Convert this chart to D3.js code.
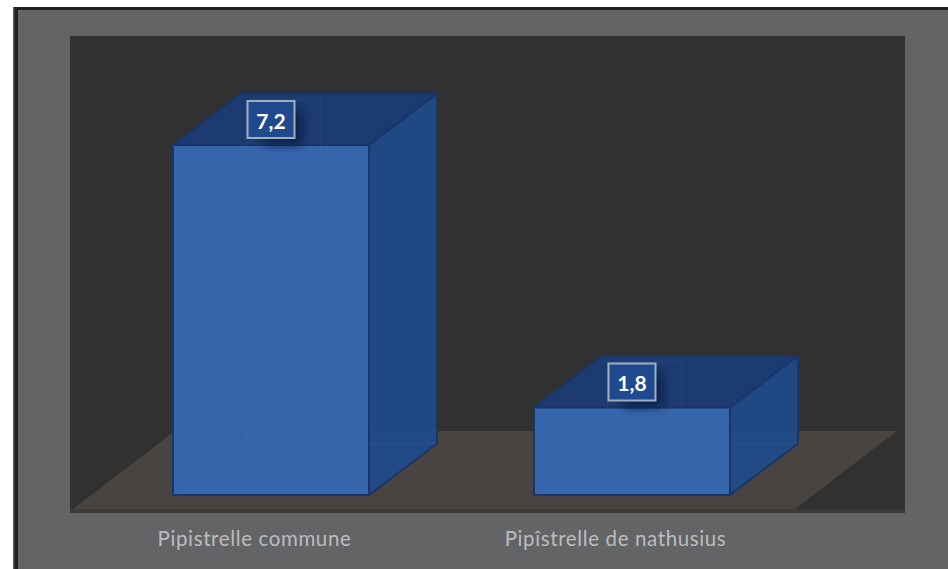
<!DOCTYPE html>
<html><head><meta charset="utf-8">
<script src="https://cdn.jsdelivr.net/npm/d3@7"></script>
<style>html,body{margin:0;padding:0;background:#fff}svg{display:block}</style>
</head><body><svg id="c" width="948" height="569"></svg>
<script>
const categories = ["Pipistrelle commune", "Pipîstrelle de nathusius"];
const values = [7.2, 1.8];

const W = 948, H = 569;
const svg = d3.select("#c");
const fmt = d3.formatLocale({decimal:",",thousands:" ",grouping:[3],currency:["","€"]}).format(".1f");
const font = "Lato, 'Open Sans', sans-serif";

// frame
svg.append("rect").attr("x",13).attr("y",7).attr("width",W-13).attr("height",H-7).attr("fill","#231f20");
svg.append("rect").attr("x",13).attr("y",7).attr("width",1.5).attr("height",H-7).attr("fill","#55565a");
svg.append("rect").attr("x",18).attr("y",10).attr("width",W-18).attr("height",H-10).attr("fill","#636466");
// plot wall
const plot = {l:70,t:36,r:905,b:513};
svg.append("rect").attr("x",plot.l).attr("y",plot.t).attr("width",plot.r-plot.l).attr("height",plot.b-plot.t).attr("fill","#313131");

const x = d3.scaleBand().domain(categories).range([74,796]).paddingInner(0.457).paddingOuter(0.2285);
const y = d3.scaleLinear().domain([0,7.2]).range([495,145]);
const depthX = 68, depthY = 51.5, frontShift = 16.5;

// floor
const floorB = 509, floorT = 431, floorDx = 102;
svg.append("rect").attr("x",plot.l).attr("y",floorB).attr("width",plot.r-plot.l).attr("height",plot.b-floorB).attr("fill","#3b3a39");
svg.append("polygon").attr("fill","#484441")
  .attr("points",[[x.range()[0]-1,floorB],[x.range()[1]-1,floorB],[x.range()[1]-1+floorDx,floorT],[x.range()[0]-1+floorDx,floorT]].join(" "));

// axis
const axis = d3.axisBottom(x).tickSize(0).tickPadding(0);
const gA = svg.append("g").attr("transform","translate(0,527.5)").call(axis);
gA.select(".domain").remove();
gA.selectAll("text").attr("font-family",font).attr("font-size",20.5).attr("letter-spacing",0.62).attr("fill","#bcbdbf").attr("dy","0.9em");

const defs = svg.append("defs");
defs.append("filter").attr("id","blur").attr("x","-50%").attr("y","-50%").attr("width","200%").attr("height","200%")
  .append("feGaussianBlur").attr("stdDeviation",5);

const data = categories.map((c,i)=>({c,v:values[i]}));
const bars = svg.selectAll("g.bar").data(data).join("g").attr("class","bar");
const edge = "#1a3568";
const L = d=>x(d.c)+frontShift, R = d=>L(d)+x.bandwidth(), T = d=>y(d.v), B = ()=>y(0);

// top
bars.append("polygon").attr("fill","#1c3b70").attr("stroke",edge).attr("stroke-width",2).attr("stroke-linejoin","round")
  .attr("points",d=>[[L(d),T(d)],[R(d),T(d)],[R(d)+depthX,T(d)-depthY],[L(d)+depthX,T(d)-depthY]].join(" "));
// side
bars.append("polygon").attr("fill","#1f4b8b").attr("fill-opacity",0.93).attr("stroke",edge).attr("stroke-width",2).attr("stroke-linejoin","round")
  .attr("points",d=>[[R(d),T(d)],[R(d)+depthX,T(d)-depthY],[R(d)+depthX,B()-depthY],[R(d),B()]].join(" "));
// front
bars.append("rect").attr("x",L).attr("y",T).attr("width",x.bandwidth()).attr("height",d=>B()-T(d))
  .attr("fill","#3568b3").attr("fill-opacity",0.94).attr("stroke",edge).attr("stroke-width",2);
// inner edges, faint through the front
bars.append("line").attr("stroke","#2f5ba0").attr("stroke-opacity",0.45).attr("stroke-width",1)
  .attr("x1",d=>L(d)).attr("y1",B()).attr("x2",d=>L(d)+depthX).attr("y2",B()-depthY);
bars.append("path").attr("fill","none").attr("stroke","#2f5ba0").attr("stroke-opacity",0.35).attr("stroke-width",1)
  .attr("d",d=>`M${L(d)+depthX},${B()-depthY-14}V${B()-depthY}H${R(d)+depthX}`);

// data labels
const boxW = 47, boxH = 37, cy = -25.5;
const CX = d=>L(d)+x.bandwidth()/2;
bars.append("rect").attr("x",d=>CX(d)-boxW/2+15).attr("y",d=>T(d)+cy-boxH/2+9).attr("width",boxW-8).attr("height",boxH-2)
  .attr("fill","#081538").attr("fill-opacity",0.65).attr("filter","url(#blur)");
bars.append("rect").attr("x",d=>CX(d)-boxW/2-1).attr("y",d=>T(d)+cy-boxH/2-2).attr("width",74).attr("height",66)
  .attr("fill","none").attr("stroke","#6f83a8").attr("stroke-opacity",0.12).attr("stroke-width",1);
bars.append("rect").attr("x",d=>CX(d)-boxW/2).attr("y",d=>T(d)+cy-boxH/2).attr("width",boxW).attr("height",boxH)
  .attr("fill","#1f4b8e").attr("stroke","#a3adbd").attr("stroke-width",2);
bars.append("text").attr("x",CX).attr("y",d=>T(d)+cy+0.5).attr("text-anchor","middle").attr("dominant-baseline","central")
  .attr("font-family",font).attr("font-weight",700).attr("font-size",21).attr("fill","#fff").text(d=>fmt(d.v));
</script></body></html>
